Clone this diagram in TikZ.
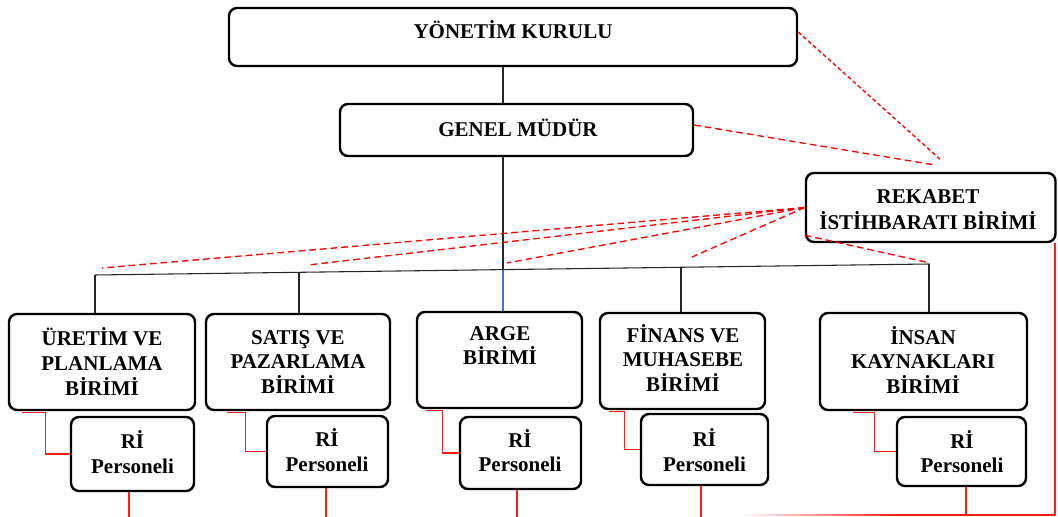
\documentclass[tikz,border=0pt]{standalone}
\usepackage{fontspec}
\setmainfont{Liberation Serif}
\usetikzlibrary{fit,calc}
\definecolor{argeblue}{RGB}{68,114,196}
\begin{document}
\begin{tikzpicture}[x=0.75pt,y=-0.75pt,
  box/.style={draw=black, line width=1.8pt, rounded corners=6pt, inner sep=0pt, fill=white},
  lbl/.style={font=\fontsize{15.75}{18.4}\selectfont\bfseries, align=center, inner sep=0pt},
  conn/.style={draw=black!85, line width=0.8pt},
  rl/.style={draw=red!90!white, line width=1pt},
  rdash/.style={draw=red, line width=1pt, dash pattern=on 5pt off 3pt}]
\useasboundingbox (0,0) rectangle (1058,517);

% top of the hierarchy
\node[box, fit={(229,8) (797,66)}] (yk) {};
\node[box, fit={(340,104) (693,156)}] (gm) {};
\node[box, fit={(806,173) (1055.5,242)}] (rek) {};

% units
\node[box, fit={(9,314) (195,410)}] (u1) {};
\node[box, fit={(206,314) (390,410)}] (u2) {};
\node[box, fit={(417,312) (582,408)}] (u3) {};
\node[box, fit={(600,313) (765,409)}] (u4) {};
\node[box, fit={(820,313) (1027,410)}] (u5) {};

% intelligence staff boxes
\node[box, fit={(71,417) (194,491)}] (r1) {};
\node[box, fit={(267,416) (388,487)}] (r2) {};
\node[box, fit={(460,417) (581,489)}] (r3) {};
\node[box, fit={(641,414) (768,485)}] (r4) {};
\node[box, fit={(897,417) (1026,486)}] (r5) {};

% labels
\node[lbl] (yk-t) at (513,30) {YÖNETİM KURULU};
\node[lbl] (gm-t) at (518,128) {GENEL MÜDÜR};
\node[lbl, font=\fontsize{15.75}{19.5}\selectfont\bfseries] (rek-t) at (928,210) {REKABET\\İSTİHBARATI BİRİMİ};
\node[lbl] (u1-t) at (102,361.5) {ÜRETİM VE\\PLANLAMA\\BİRİMİ};
\node[lbl] (u2-t) at (298,362) {SATIŞ VE\\PAZARLAMA\\BİRİMİ};
\node[lbl] (u3-t) at (500,345.5) {ARGE\\BİRİMİ};
\node[lbl] (u4-t) at (683,358) {FİNANS VE\\MUHASEBE\\BİRİMİ};
\node[lbl] (u5-t) at (923,360) {İNSAN\\KAYNAKLARI\\BİRİMİ};
\node[lbl] (r1-t) at (132.5,452) {Rİ\\Personeli};
\node[lbl] (r2-t) at (327,450) {Rİ\\Personeli};
\node[lbl] (r3-t) at (520,450.5) {Rİ\\Personeli};
\node[lbl] (r4-t) at (704.5,450) {Rİ\\Personeli};
\node[lbl] (r5-t) at (962,451.5) {Rİ\\Personeli};

% line of command
\coordinate (trunk) at (503,0);
\coordinate (b1) at (95,275);
\coordinate (b2) at (299,272.3);
\coordinate (b3) at (503,269.6);
\coordinate (b4) at (681,267.3);
\coordinate (b5) at (929,264);
\draw[conn] (yk.south -| trunk) -- (gm.north -| trunk);
\draw[conn] (gm.south -| trunk) -- (b3);
\draw[conn] (b1) -- (b5);
\draw[conn] (b1) -- (u1.north -| b1);
\draw[conn] (b2) -- (u2.north -| b2);
\draw[draw=argeblue, line width=0.8pt] (b3) -- (u3.north -| b3);
\draw[conn] (b4) -- (u4.north -| b4);
\draw[conn] (b5) -- (u5.north -| b5);

% unit to staff links
\draw[rl] ($(u1.south west)+(14,1.5)$) -- ++(24,0) |- (r1.west);
\draw[rl] ($(u2.south west)+(22,1.5)$) -- ++(19,0) |- (r2.west);
\draw[rl] ($(u3.south west)+(10,1.5)$) -- ++(17,0) |- (r3.west);
\draw[rl] ($(u4.south west)+(10,1.5)$) -- ++(16,0) |- (r4.west);
\draw[rl] ($(u5.south west)+(34,1.5)$) -- ++(22,0) |- (r5.west);

% staff reporting lines
\coordinate (f1) at (129,517);
\coordinate (f2) at (326,517);
\coordinate (f3) at (517,517);
\coordinate (f4) at (701,517);
\coordinate (f5) at (966,515);
\coordinate (cR) at (1055,515);
\coordinate (cM) at (900,515);
\coordinate (cL) at (740,515);
\draw[rl] (r1.south -| f1) -- (f1);
\draw[rl] (r2.south -| f2) -- (f2);
\draw[rl] (r3.south -| f3) -- (f3);
\draw[rl] (r4.south -| f4) -- (f4);
\draw[rl] (r5.south -| f5) -- (f5);
\draw[rl] (rek.south east -| cR) -- (cR) -- (cM);
% the return line thins out towards the left
\shade[left color=white, right color=red!90!white]
  ($(cL)+(0,-0.65)$) rectangle ($(cM)+(0,0.65)$);

% intelligence links
\coordinate (rk1) at (942,161);
\coordinate (rk2) at (935,165);
\coordinate (d1) at (102,268);
\coordinate (d2) at (308,265);
\coordinate (d3) at (507,263);
\coordinate (d4) at (692,257);
\coordinate (d5) at (930,263);
\draw[rdash, dash pattern=on 3pt off 2pt] ($(yk.east)+(0,-5)$) -- (rk1);
\draw[rdash] ($(gm.east)+(0,-5)$) -- (rk2);
\draw[rdash] (rek.west) -- (d1);
\draw[rdash] (rek.west) -- (d2);
\draw[rdash] (rek.west) -- (d3);
\draw[rdash] (rek.west) -- (d4);
\draw[rdash] ($(rek.south west)+(0,-8)$) -- (d5);
\end{tikzpicture}
\end{document}
